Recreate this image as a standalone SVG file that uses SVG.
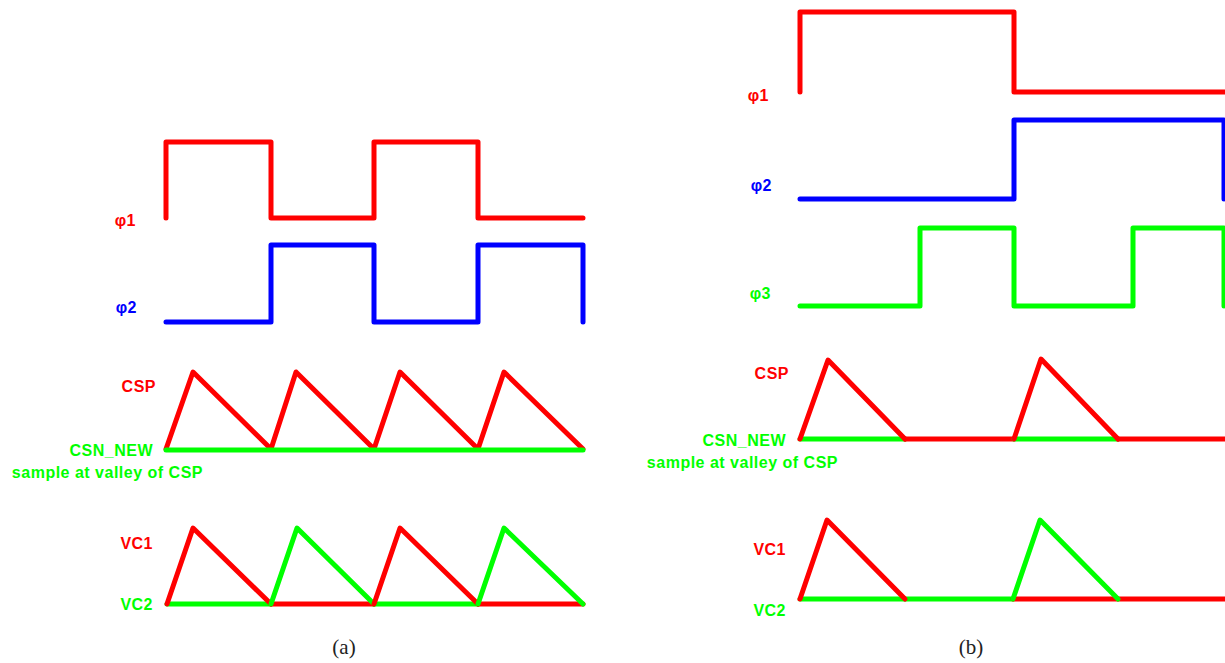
<svg xmlns="http://www.w3.org/2000/svg" width="1225" height="663" viewBox="0 0 1225 663">
<style>
.w{fill:none;stroke-width:5;stroke-linejoin:round;stroke-linecap:round}
.r{stroke:#ff0000}.b{stroke:#0000ff}.g{stroke:#00ff00}
.lbl{font-family:"Liberation Sans",Arial,sans-serif;font-weight:bold;font-size:16px;letter-spacing:0.5px;text-anchor:end}
.tr{fill:#ff0000}.tb{fill:#0000ff}.tg{fill:#00ff00}
.cap{font-family:"Liberation Serif","Times New Roman",serif;font-size:21px;fill:#222;text-anchor:middle}
</style>
<rect width="1225" height="663" fill="#ffffff"/>
<g id="panel-a">
  <g id="a-phi1">
    <path class="w r" d="M166,218 V142 H271 V218 H374 V142 H478 V218 H583"/>
    <text class="lbl tr" x="136" y="226">φ1</text>
  </g>
  <g id="a-phi2">
    <path class="w b" d="M166,322 H271 V245 H374 V322 H478 V245 H583 V322"/>
    <text class="lbl tb" x="137" y="313">φ2</text>
  </g>
  <g id="a-csp">
    <path class="w r" d="M166,449 L193,372 L271,449 L296,372 L374,449 L400,372 L478,449 L504,372 L583,449"/>
    <path class="w g" d="M166,450 H583"/>
    <text class="lbl tr" x="156" y="392">CSP</text>
    <text class="lbl tg" x="153" y="456">CSN_NEW</text>
    <text class="lbl tg" x="203" y="478">sample at valley of CSP</text>
  </g>
  <g id="a-vc">
    <path class="w g" d="M167,604 H271"/>
    <path class="w r" d="M271,604 H374"/>
    <path class="w g" d="M374,604 H478"/>
    <path class="w r" d="M478,604 H583"/>
    <path class="w r" d="M167,604 L193,528 L271,604"/>
    <path class="w g" d="M271,604 L297,528 L374,604"/>
    <path class="w r" d="M374,604 L400,528 L478,604"/>
    <path class="w g" d="M478,604 L504,528 L583,604"/>
    <text class="lbl tr" x="153" y="549">VC1</text>
    <text class="lbl tg" x="153" y="610">VC2</text>
  </g>
  <text id="cap-a" class="cap" x="344" y="654">(a)</text>
</g>
<g id="panel-b">
  <g id="b-phi1">
    <path class="w r" d="M800,92 V12 H1014 V92 H1228"/>
    <text class="lbl tr" x="769" y="101">φ1</text>
  </g>
  <g id="b-phi2">
    <path class="w b" d="M800,199 H1014 V120 H1224 V199"/>
    <text class="lbl tb" x="772" y="191">φ2</text>
  </g>
  <g id="b-phi3">
    <path class="w g" d="M800,306 H920 V228 H1014 V306 H1133 V228 H1224 V306"/>
    <text class="lbl tg" x="771" y="299">φ3</text>
  </g>
  <g id="b-csp">
    <path class="w g" d="M800,439 H905"/>
    <path class="w r" d="M905,439 H1014"/>
    <path class="w g" d="M1014,439 H1118"/>
    <path class="w r" d="M1118,439 H1228"/>
    <path class="w r" d="M800,439 L828,360 L905,439"/>
    <path class="w r" d="M1014,439 L1041,359 L1118,439"/>
    <text class="lbl tr" x="789" y="379">CSP</text>
    <text class="lbl tg" x="786" y="446">CSN_NEW</text>
    <text class="lbl tg" x="838" y="468">sample at valley of CSP</text>
  </g>
  <g id="b-vc">
    <path class="w g" d="M800,599 H1013"/>
    <path class="w r" d="M1013,599 H1228"/>
    <path class="w r" d="M800,599 L827,520 L905,599"/>
    <path class="w g" d="M1013,599 L1040,520 L1118,599"/>
    <text class="lbl tr" x="786" y="555">VC1</text>
    <text class="lbl tg" x="786" y="616">VC2</text>
  </g>
  <text id="cap-b" class="cap" x="971" y="654">(b)</text>
</g>
</svg>
